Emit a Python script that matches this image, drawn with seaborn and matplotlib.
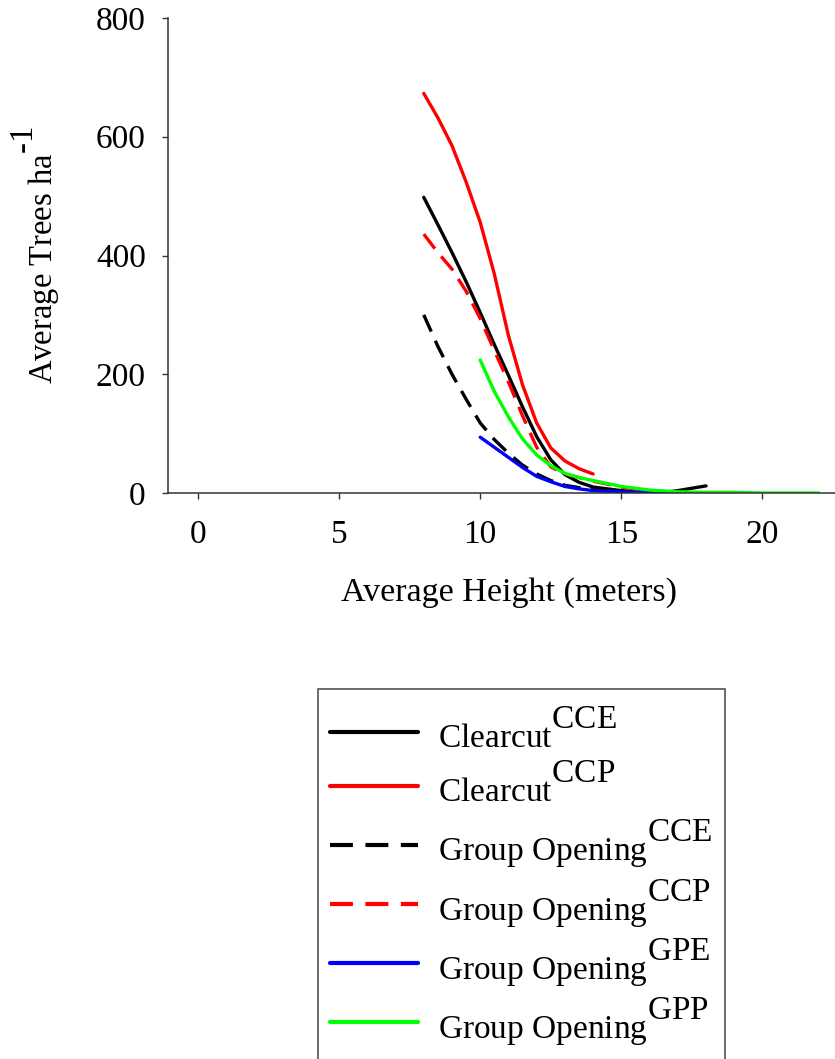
import numpy as np
import pandas as pd
import seaborn as sns
import matplotlib.pyplot as plt
import matplotlib._mathtext as mtext

# superscripts in the original are full size and sit a bit higher
mtext.SHRINK_FACTOR = 1.0
mtext.FontConstantsBase.sup1 = 0.95

# values
cc_e_x = [8, 8.5, 9, 9.5, 10, 10.5, 11, 11.5, 12, 12.5, 13, 13.5, 14, 15, 16, 16.5, 17, 18]
cc_e_y = [498, 452, 405, 356, 304, 250, 198, 145, 95, 56, 31, 18, 10, 4, 1, 1, 4, 12]

cc_p_x = [8, 8.5, 9, 9.5, 10, 10.5, 11, 11.5, 12, 12.5, 13, 13.5, 14]
cc_p_y = [673, 632, 585, 524, 456, 369, 265, 182, 118, 76, 54, 41, 32]

go_cce_x = [8, 8.5, 9, 9.5, 10, 10.5, 11, 11.5, 12, 12.5, 13, 14, 15, 16]
go_cce_y = [300, 247, 200, 158, 118, 90, 67, 47, 32, 21, 13, 5, 2, 1]

go_ccp_x = [8, 8.5, 9, 9.5, 10, 10.5, 11, 11.5, 12, 12.5, 13, 14, 15, 16]
go_ccp_y = [436, 405, 377, 340, 294, 240, 187, 130, 77, 44, 32, 20, 10, 3]

go_gpe_x = [10, 10.5, 11, 11.5, 12, 12.5, 13, 13.5, 14, 15, 16, 16.5]
go_gpe_y = [94, 77, 60, 43, 28, 19, 11, 7, 4, 2, 0, 0]

go_gpp_x = [10, 10.5, 11, 11.5, 12, 12.5, 13, 13.5, 14, 15, 16, 17, 18, 19, 20, 21, 22]
go_gpp_y = [224, 171, 128, 91, 64, 46, 33, 26, 21, 11, 5, 2, 1, 1, 0, 0, 0]

labels = [r'Clearcut$^{\mathregular{CCE}}$',
          r'Clearcut$^{\mathregular{CCP}}$',
          r'Group Opening$^{\mathregular{CCE}}$',
          r'Group Opening$^{\mathregular{CCP}}$',
          r'Group Opening$^{\mathregular{GPE}}$',
          r'Group Opening$^{\mathregular{GPP}}$']
colors = ['black', '#ff0000', 'black', '#ff0000', '#0000ff', '#00ff00']
dashed = [False, False, True, True, False, False]

series = [(cc_e_x, cc_e_y), (cc_p_x, cc_p_y), (go_cce_x, go_cce_y),
          (go_ccp_x, go_ccp_y), (go_gpe_x, go_gpe_y), (go_gpp_x, go_gpp_y)]

sns.set_style("ticks")
plt.rcParams['font.family'] = ['Liberation Serif', 'DejaVu Serif']
plt.rcParams['mathtext.fontset'] = 'custom'
plt.rcParams['mathtext.rm'] = 'Liberation Serif'
plt.rcParams['text.color'] = 'black'
plt.rcParams['axes.labelcolor'] = 'black'
plt.rcParams['xtick.color'] = 'black'
plt.rcParams['ytick.color'] = 'black'

fig = plt.figure(figsize=(8.35, 10.59), dpi=100)
ax = fig.add_axes([168/835, 1-493/1059, (850-168)/835, 475/1059])

for (x, y), lab, c, d in zip(series, labels, colors, dashed):
    df = pd.DataFrame({'h': x, 'n': y})
    sns.lineplot(data=df, x='h', y='n', ax=ax, color=c, lw=2.4, label=lab)
    if d:
        ax.lines[-1].set_dashes((5.5, 3))

ax.set_xlim(-1.06, 23.1)
ax.set_ylim(0, 800)
ax.set_xticks([0, 5, 10, 15, 20])
ax.set_yticks([0, 200, 400, 600, 800])
sns.despine(ax=ax)
for s in ['left', 'bottom']:
    ax.spines[s].set_color('#333333')
    ax.spines[s].set_linewidth(1.1)
ax.tick_params(direction='out', length=4, width=1, color='#333333', labelsize=24)
ax.tick_params(axis='x', pad=15)
ax.tick_params(axis='y', pad=12)

ax.set_xlabel('Average Height (meters)', fontsize=24.5)
ax.set_ylabel('Average Trees ha$^{\\mathregular{\u20101}}$', fontsize=23.5)
ax.xaxis.set_label_coords(0.5, -0.178)
ax.yaxis.set_label_coords(-0.155, 0.5)

handles, labs = ax.get_legend_handles_labels()
ax.get_legend().remove()
leg = fig.legend(handles, labs, loc='upper left',
                 bbox_to_anchor=(318/835, 0, 407/835, 1-689/1059),
                 mode='expand', borderaxespad=0, fontsize=24,
                 handlelength=2.64, handletextpad=0.6, borderpad=0.36,
                 handleheight=1.7, labelspacing=0.16, fancybox=False,
                 framealpha=1, edgecolor='#444444',
                 title=' ', title_fontsize=4)
leg.get_frame().set_linewidth(1.1)
for h in leg.get_lines():
    h.set_linewidth(3)

fig.savefig('out.png', dpi=100)
